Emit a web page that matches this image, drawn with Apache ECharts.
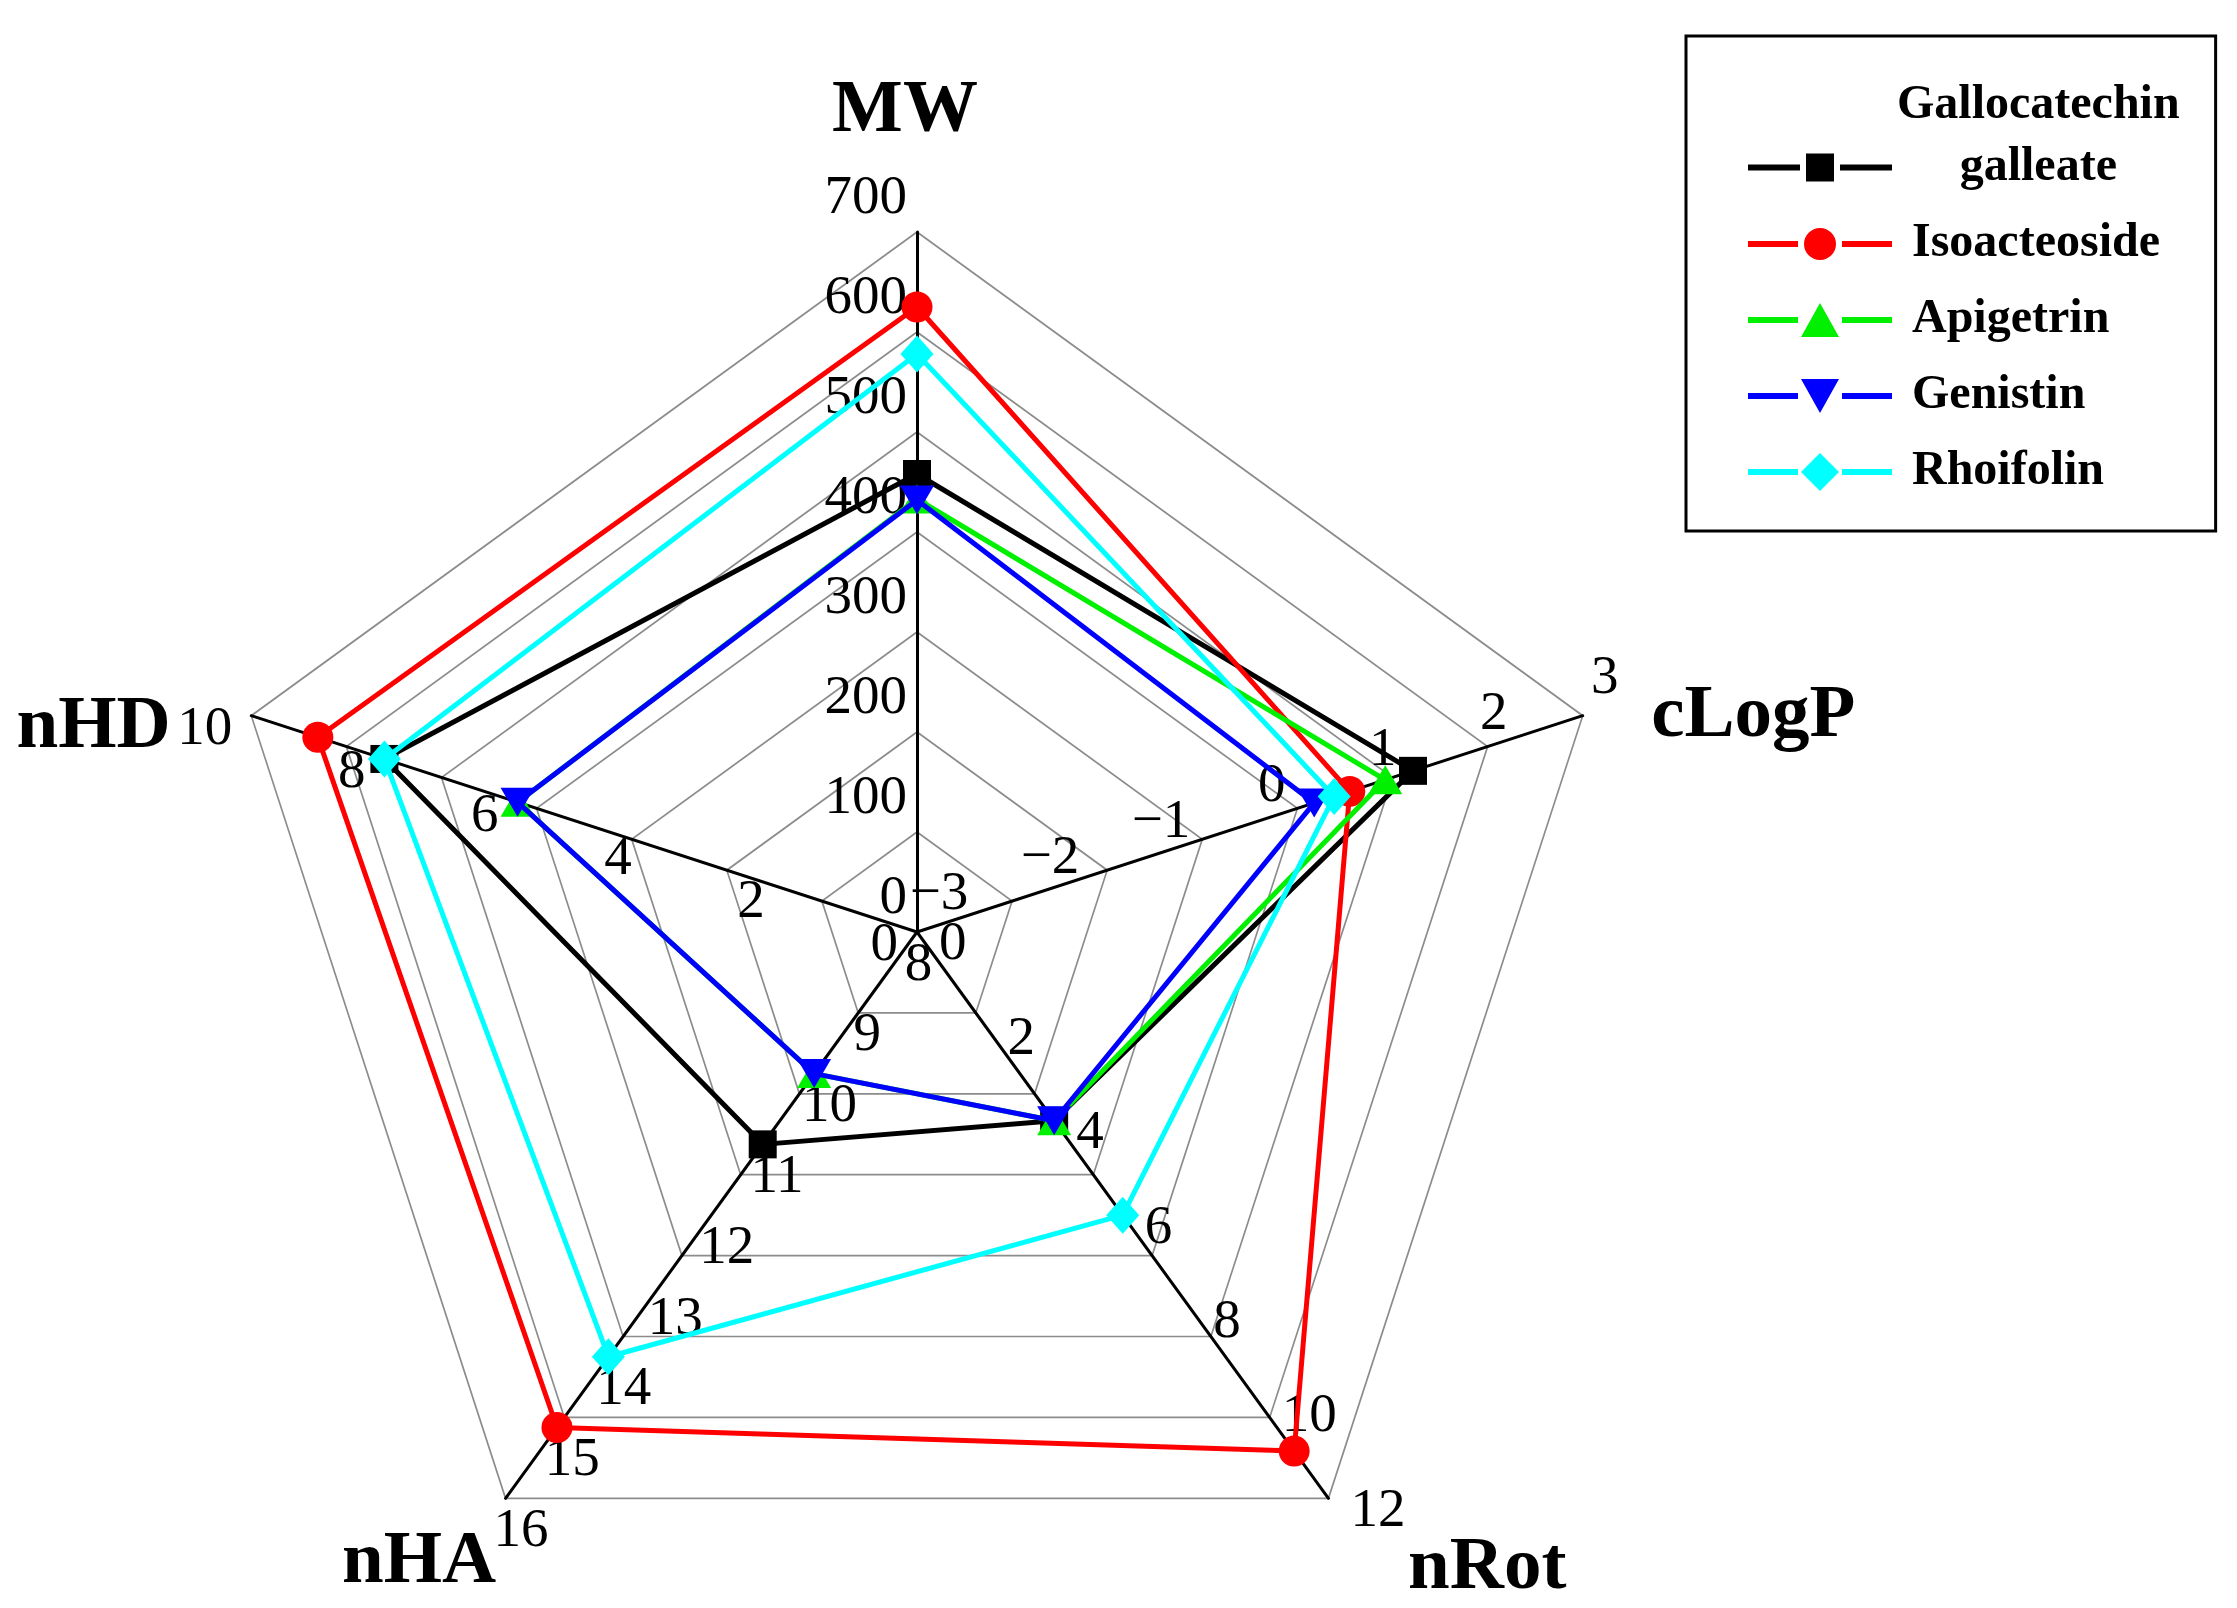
<!DOCTYPE html>
<html><head><meta charset="utf-8">
<script src="https://cdn.jsdelivr.net/npm/echarts@6/dist/echarts.min.js"></script>
<style>html,body{margin:0;padding:0;background:#fff}#c{width:2237px;height:1608px}</style>
</head><body><div id="c"></div>
<script>
// ---- data ----
const indicatorNames = ['MW', 'nHD', 'nHA', 'nRot', 'cLogP'];
const indicatorMin = [0, 0, 8, 0, -3];
const indicatorMax = [700, 10, 16, 12, 3];
const labelSplits = [7, 5, 8, 6, 6]; // tick intervals per axis (MW step 100, nHD step 2, nHA step 1, nRot step 2, cLogP step 1)
const seriesNames = ['Gallocatechin galleate', 'Isoacteoside', 'Apigetrin', 'Genistin', 'Rhoifolin'];
const gallocatechinGalleate = [458, 8, 11, 4, 1.47];
const isoacteoside = [625, 9, 15, 11, 0.90];
const apigetrin = [433, 6, 10, 4, 1.22];
const genistin = [432, 6, 10, 4, 0.58];
const rhoifolin = [578, 8, 14, 6, 0.76];
const seriesValues = [gallocatechinGalleate, isoacteoside, apigetrin, genistin, rhoifolin];

// ---- styles ----
const FONT = 'Liberation Serif';
const colors = ['#000000', '#ff0000', '#00f000', '#0000ff', '#00ffff'];
const symbols = ['rect', 'circle', 'triangle', 'triangle', 'diamond'];
const symbolRot = [0, 0, 0, 180, 0];
const symbolSizes = [[28, 28], [31, 31], [34, 29], [34, 29], [33, 37]];
const legendIcons = [
  'path://M0,17L52,17L52,23L0,23Z M58,6L86,6L86,34L58,34Z M92,17L144,17L144,23L92,23Z',
  'path://M0,17L50,17L50,23L0,23Z M56,20A16,16,0,1,1,88,20A16,16,0,1,1,56,20Z M94,17L144,17L144,23L94,23Z',
  'path://M0,17L50,17L50,23L0,23Z M53,37L72,3L91,37Z M94,17L144,17L144,23L94,23Z',
  'path://M0,17L50,17L50,23L0,23Z M53,3L91,3L72,37Z M94,17L144,17L144,23L94,23Z',
  'path://M0,17L50,17L50,23L0,23Z M72,1L91,20L72,39L53,20Z M94,17L144,17L144,23L94,23Z'
];
const labelStyles = {
  MW:    {align: 'right',  verticalAlign: 'middle', margin: 0,   pad: [0, 10, 66, 0]},
  nHD:   {align: 'right',  verticalAlign: 'middle', margin: 0,   pad: [28, 19, 0, 0]},
  nHA:   {align: 'left',   verticalAlign: 'middle', margin: -15, pad: [84, 0, 0, 0]},
  nRot:  {align: 'left',   verticalAlign: 'middle', margin: 0,   pad: [26, 0, 0, 22]},
  cLogP: {align: 'center', verticalAlign: 'middle', margin: 0,   pad: [0, 0, 74, 44]}
};
const nameGaps = {MW: 30, nHD: 30, nHA: 16, nRot: 30, cLogP: 30};
const nameRich = {
  MW:    {padding: [0, 24, 53, 0]},
  nHD:   {padding: [42, 52, 0, 0]},
  nHA:   {padding: [103, 0, 0, 0]},
  nRot:  {padding: [92, 0, 0, 62]},
  cLogP: {padding: [20, 0, 0, 40]}
};
Object.keys(nameRich).forEach(k => Object.assign(nameRich[k], {fontFamily: FONT, fontWeight: 'bold', fontSize: 75, color: '#000'}));

const CENTER = [917, 932], RADIUS = 700;
const minus = v => String(v).replace('-', '\u2212');

function indicators(showFor) {
  return indicatorNames.map((n, i) => {
    const ind = {name: n, min: indicatorMin[i], max: indicatorMax[i], nameGap: nameGaps[n]};
    if (showFor.indexOf(n) >= 0) {
      const s = labelStyles[n];
      ind.axisLabel = {
        show: true, fontFamily: FONT, fontSize: 55, color: '#000',
        align: s.align, verticalAlign: s.verticalAlign, margin: s.margin,
        hideOverlap: false, showMinLabel: true, showMaxLabel: true,
        formatter: v => '{p|' + minus(v) + '}',
        rich: {p: {fontFamily: FONT, fontSize: 55, color: '#000', padding: s.pad}}
      };
    } else {
      ind.axisLabel = {show: false};
    }
    return ind;
  });
}

function labelRadar(split) {
  const axes = indicatorNames.filter((n, i) => labelSplits[i] === split);
  return {
    center: CENTER, radius: RADIUS, startAngle: 90, splitNumber: split, shape: 'polygon',
    indicator: indicators(axes),
    axisName: {show: false},
    axisLine: {show: false}, axisTick: {show: false},
    axisLabel: {show: false},
    splitLine: {show: false}, splitArea: {show: false}
  };
}

const radars = [
  {
    center: CENTER, radius: RADIUS, startAngle: 90, splitNumber: 7, shape: 'polygon',
    indicator: indicators(['MW']),
    nameGap: 30,
    axisName: {show: true, color: '#000', fontFamily: FONT, fontWeight: 'bold', fontSize: 75,
      formatter: name => '{' + name + '|' + name + '}', rich: nameRich},
    axisLine: {show: true, lineStyle: {color: '#000', width: 3}},
    axisTick: {show: false},
    axisLabel: {show: false},
    splitLine: {show: true, lineStyle: {color: '#8c8c8c', width: 1.7}},
    splitArea: {show: false}
  },
  labelRadar(6), labelRadar(8), labelRadar(5)
];

const series = seriesNames.map((name, i) => ({
  type: 'radar', radarIndex: 0, name: name, z: 3 + i,
  symbol: symbols[i], symbolSize: symbolSizes[i], symbolRotate: symbolRot[i],
  lineStyle: {color: colors[i], width: 5},
  itemStyle: {color: colors[i]},
  emphasis: {disabled: true},
  data: [{name: name, value: seriesValues[i]}]
}));

const legendText = {fontFamily: FONT, fontWeight: 'bold', fontSize: 48, color: '#000'};
const option = {
  backgroundColor: '#ffffff',
  animation: false,
  radar: radars,
  legend: {
    orient: 'vertical', left: 1686, top: 36,
    padding: [46, 36, 35, 62],
    borderColor: '#000', borderWidth: 3,
    itemWidth: 144, itemHeight: 40, itemGap: 28,
    symbolKeepAspect: true,
    selectedMode: false,
    itemStyle: {borderWidth: 0},
    data: seriesNames.map((n, i) => ({name: n, icon: legendIcons[i], itemStyle: {color: colors[i], borderWidth: 0}})),
    formatter: name => name === seriesNames[0]
      ? '{l1|Gallocatechin}\n{l2|galleate}'
      : '{n|' + name + '}',
    textStyle: Object.assign({}, legendText, {
      rich: {
        l1: Object.assign({lineHeight: 1, verticalAlign: 'bottom', align: 'center'}, legendText),
        l2: Object.assign({lineHeight: 76, align: 'center'}, legendText),
        n: Object.assign({padding: [0, 0, 0, 15]}, legendText)
      }
    })
  },
  series: series
};
const chart = echarts.init(document.getElementById('c'), null, {renderer: 'canvas'});
chart.setOption(option);
</script></body></html>
